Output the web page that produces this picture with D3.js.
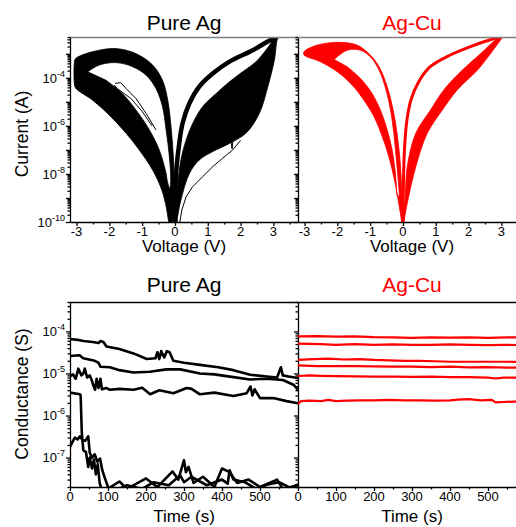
<!DOCTYPE html>
<html>
<head>
<meta charset="utf-8">
<script src="https://cdn.jsdelivr.net/npm/d3@7"></script>
<style>
  body { margin: 0; background: #fff; }
  svg { display: block; font-family: "Liberation Sans", Arial, sans-serif; }
</style>
</head>
<body>
<svg id="fig" width="516" height="527"></svg>
<script>
// ---------- axis ranges & ticks ----------
const voltDomain = [-3.2, 3.75];
const currentDomain = [1e-10, 5e-3];
const timeDomain = [0, 600];
const condDomain = [2e-8, 5e-4];
const voltTicks = [-3, -2, -1, 0, 1, 2, 3];
const voltMinorTicks = [-2.5, -1.5, -0.5, 0.5, 1.5, 2.5, 3.5];
const timeTicks = [0, 100, 200, 300, 400, 500];
const timeMinorTicks = [50, 150, 250, 350, 450, 550];
const currentLabelExps = [-10, -8, -6, -4];
const condLabelExps = [-7, -6, -5, -4];
const panelTitles = ["Pure Ag", "Ag-Cu"];

// ---------- I-V sweeps, pure Ag: [voltage (V), current (A)] ----------
// low-resistance branch, +3 V back to 0 V
const agOnPos = [[3.20,6.5e-3],[3.08,5.0e-3],[2.72,2.7e-3],[2.37,1.41e-3],[1.66,4.7e-4],[1.15,1.5e-4],
  [0.74,4.3e-5],[0.44,8.7e-6],[0.23,1.26e-6],[0.13,1.86e-7],[0.05,2.0e-8],[0.01,1.55e-9],[0.002,1e-10],[0.0,5e-11]];
// negative-bias lobe: outer edge of the ON sweeps, then the reset strip at -3 V
const agLobeOuter = [[-0.01,2.3e-10],[-0.02,2.95e-9],[-0.05,5.2e-8],[-0.12,9.1e-7],[-0.22,1.17e-5],[-0.38,7.9e-5],
  [-0.68,3.4e-4],[-1.09,8.7e-4],[-1.49,1.41e-3],[-1.90,1.66e-3],[-2.31,1.41e-3],[-2.71,1.02e-3],[-3.02,6.5e-4],
  [-3.06,5.0e-4],[-3.06,5.0e-5],[-3.02,3.6e-5]];
// lower edge of the OFF sweeps returning to 0 V
const agLobeLower = [[-2.51,1.17e-5],[-2.0,2.8e-6],[-1.49,4.9e-7],[-1.09,1.0e-7],[-0.68,1.45e-8],[-0.40,2.1e-9],
  [-0.27,4.4e-10],[-0.20,1.2e-10],[-0.15,5e-11]];
// open interior of the lobe
const agHoleUpper = [[-2.66,1.78e-4],[-2.31,3.4e-4],[-1.80,4.3e-4],[-1.29,2.9e-4],[-0.88,1.29e-4],[-0.58,3.6e-5],
  [-0.38,6.3e-6],[-0.27,6.8e-7],[-0.17,5.2e-8],[-0.13,5.6e-9],[-0.16,2.5e-9]];
const agHoleLower = [[-0.24,5.6e-9],[-0.27,1.05e-8],[-0.48,1.0e-7],[-0.78,6.8e-7],[-1.19,4.6e-6],[-1.60,2.2e-5],
  [-2.10,7.9e-5]];
// SET sweeps 0 V to +3 V: upper and lower envelope
const agSetUpper = [[0.03,3.2e-10],[0.08,2.95e-9],[0.18,3.8e-8],[0.34,2.6e-7],[0.54,1.26e-6],[0.84,6.3e-6],
  [1.25,2.2e-5],[1.66,6.8e-5],[2.06,1.78e-4],[2.47,4.7e-4],[2.77,1.41e-3],[3.03,4.4e-3],[3.10,6.5e-3]];
const agSetLower = [[3.22,6.5e-3],[3.13,4.4e-3],[3.03,5.5e-4],[2.83,4.3e-5],[2.57,3.3e-6],[2.16,4.9e-7],
  [1.66,1.86e-7],[1.15,8.5e-8],[0.74,3.8e-8],[0.44,1.05e-8],[0.18,8.1e-10],[0.08,1.6e-10],[0.04,5e-11]];
// individual sweeps running outside the main bands
const agStray1 = [[0.12,6e-11],[0.21,3.2e-10],[0.34,1.12e-9],[0.54,2.95e-9],[0.84,7.6e-9],[1.15,2.0e-8],
  [1.45,4.5e-8],[1.76,1.0e-7],[2.0,2.5e-7]];
const agStray2 = [[1.55,2.5e-7],[1.70,2.8e-7],[1.74,1.12e-7],[1.78,3.2e-7],[1.92,5.0e-7]];
const agStray3 = [[-1.82,5.9e-5],[-1.65,6.3e-5],[-1.49,3.6e-5],[-1.19,1.38e-5],[-0.88,3.3e-6],[-0.58,6.8e-7]];
const agStray4 = [[-1.85,5.0e-5],[-1.75,3.5e-5],[-1.35,1.4e-5],[-1.0,4.0e-6],[-0.7,1.0e-6]];

// ---------- I-V sweeps, Ag-Cu ----------
const cuOnPos = [[3.02,6.5e-3],[2.92,5.1e-3],[2.25,2.5e-3],[1.44,8.9e-4],[0.83,2.9e-4],[0.48,6.9e-5],
  [0.24,1.17e-5],[0.12,1.74e-6],[0.05,1.35e-7],[0.02,1.05e-8],[0.005,4.4e-10],[0.002,5e-11]];
const cuLobeOuter = [[-0.01,2.3e-10],[-0.04,2.95e-9],[-0.09,3.8e-8],[-0.18,4.9e-7],[-0.30,4.6e-6],[-0.48,4.3e-5],
  [-0.73,2.9e-4],[-1.04,1.02e-3],[-1.40,2.3e-3],[-1.80,2.95e-3],[-2.21,2.9e-3],[-2.61,2.3e-3],[-2.97,1.41e-3],
  [-3.03,1.12e-3],[-3.01,8.7e-4]];
const cuLobeLower = [[-2.52,4.7e-4],[-2.0,1.78e-4],[-1.55,5.0e-5],[-1.19,1.17e-5],[-0.88,2.4e-6],[-0.63,3.5e-7],
  [-0.43,5.2e-8],[-0.26,5.6e-9],[-0.13,6.0e-10],[-0.05,1.2e-10],[-0.03,5e-11]];
const cuHoleUpper = [[-2.10,5.8e-4],[-1.70,1.41e-3],[-1.30,1.41e-3],[-0.99,7.4e-4],[-0.73,2.1e-4],[-0.53,3.6e-5],
  [-0.38,4.6e-6],[-0.28,4.9e-7],[-0.20,3.8e-8],[-0.13,2.95e-9],[-0.12,1.3e-9]];
const cuHoleLower = [[-0.16,1.12e-9],[-0.23,1.05e-8],[-0.33,1.0e-7],[-0.48,6.8e-7],[-0.69,4.6e-6],[-0.94,2.2e-5],
  [-1.30,9.5e-5],[-1.70,2.9e-4]];
const cuSetUpper = [[0.02,3.2e-10],[0.06,8.1e-10],[0.13,2.0e-8],[0.39,4.9e-7],[0.84,4.6e-6],[1.25,3.2e-5],
  [1.81,2.1e-4],[2.37,1.02e-3],[2.88,4.8e-3],[2.98,6.5e-3]];
const cuSetLower = [[3.10,6.5e-3],[3.03,4.8e-3],[2.67,1.02e-3],[2.27,2.1e-4],[1.66,3.2e-5],[1.20,4.6e-6],
  [0.74,4.9e-7],[0.39,2.0e-8],[0.15,8.1e-10],[0.04,1.2e-10],[0.02,5e-11]];

// ---------- retention, pure Ag: [time (s), conductance (S)] ----------
const agCond1 = [[0,6.6e-5],[20,6.3e-5],[35,5.9e-5],[60,5.6e-5],[75,5.3e-5],[80,5.9e-5],[88,5.6e-5],[96,4.4e-5],
  [130,3.8e-5],[167,3.0e-5],[202,2.2e-5],[225,2.3e-5],[230,3.2e-5],[235,2.2e-5],[240,3.4e-5],[248,2.4e-5],
  [255,3.4e-5],[262,3.2e-5],[272,2.0e-5],[300,1.8e-5],[342,1.6e-5],[390,1.4e-5],[430,1.2e-5],[474,9.3e-6],
  [518,8.5e-6],[545,8.0e-6],[555,1.4e-5],[560,9.0e-6],[575,8.5e-6],[600,7.8e-6]];
const agCond2 = [[0,2.6e-5],[25,2.7e-5],[35,2.3e-5],[65,2.0e-5],[75,1.8e-5],[80,1.45e-5],[105,1.4e-5],
  [130,1.2e-5],[167,1.05e-5],[210,1.1e-5],[254,1.25e-5],[290,1.25e-5],[342,1.0e-5],[380,9.5e-6],[430,8.2e-6],
  [474,7.2e-6],[518,7.5e-6],[560,7.0e-6],[588,5.4e-6],[600,4.1e-6]];
const agCond3 = [[0,8.5e-6],[8,9.5e-6],[15,7.5e-6],[22,1.3e-5],[30,9e-6],[35,1.0e-5],[39,1.3e-5],[45,8e-6],
  [52,9e-6],[57,7.0e-6],[62,5.0e-6],[66,4.1e-6],[70,7.5e-6],[75,4.5e-6],[80,7.5e-6],[84,4.2e-6],[96,4.5e-6],
  [105,4.1e-6],[130,4.3e-6],[167,4.1e-6],[190,4.6e-6],[211,3.2e-6],[235,4.0e-6],[272,3.4e-6],[307,4.5e-6],
  [320,4.3e-6],[342,3.2e-6],[380,3.5e-6],[430,2.9e-6],[465,3.4e-6],[475,4.9e-6],[480,3.0e-6],[486,4.2e-6],
  [500,2.6e-6],[535,2.6e-6],[570,2.2e-6],[600,1.95e-6]];
const agCond4 = [[0,3.5e-6],[26,3.2e-6],[28,3.0e-6],[31,4.0e-7],[35,1.5e-7],[42,1.35e-7],[48,6.0e-8],[52,1.0e-7],
  [58,5.5e-8],[63,9e-8],[68,4e-8],[73,7e-8],[78,2.5e-8],[85,1.5e-8],[130,2.7e-8],[150,1.8e-8],[200,3.2e-8],
  [230,2.0e-8],[270,4.7e-8],[285,3.0e-8],[300,8.7e-8],[305,4.5e-8],[312,6e-8],[325,2.5e-8],[350,3.5e-8],
  [380,2.0e-8],[400,5.5e-8],[420,4.5e-8],[440,2.5e-8],[470,3.0e-8],[500,2.0e-8],[545,3.0e-8],[560,1.8e-8],
  [600,2.2e-8]];
const agCond5 = [[0,1.8e-7],[8,2.5e-7],[13,3.0e-7],[20,2.7e-7],[26,3.2e-7],[33,2.6e-7],[40,2.5e-7],[48,3.2e-7],
  [52,1.3e-7],[58,1.0e-7],[65,1.2e-7],[72,8e-8],[79,9.5e-8],[85,5e-8],[92,3.2e-8],[100,2.0e-8],[110,1.5e-8],
  [150,2.2e-8],[190,1.8e-8],[220,2.6e-8],[260,2.2e-8],[290,3.8e-8],[300,2.6e-8],[320,3.5e-8],[360,2.2e-8],
  [400,3.0e-8],[415,2.4e-8],[420,5.0e-8],[430,3.0e-8],[460,2.6e-8],[490,1.8e-8],[520,2.3e-8],[550,2.6e-8],
  [580,1.9e-8],[600,2.3e-8]];

// ---------- retention, Ag-Cu ----------
const cuCond1 = [[0,7.6e-5],[50,7.7e-5],[100,7.5e-5],[150,7.6e-5],[200,7.3e-5],[250,7.2e-5],[300,7.0e-5],
  [350,7.2e-5],[400,7.1e-5],[450,7.2e-5],[500,7.0e-5],[550,7.2e-5],[600,7.3e-5]];
const cuCond2 = [[0,5.1e-5],[60,5.0e-5],[100,4.8e-5],[150,5.0e-5],[200,4.8e-5],[250,4.9e-5],[300,4.8e-5],
  [350,4.8e-5],[400,4.9e-5],[450,4.8e-5],[500,4.7e-5],[550,4.8e-5],[600,4.7e-5]];
const cuCond3 = [[0,2.1e-5],[40,2.2e-5],[80,2.25e-5],[120,2.15e-5],[160,2.2e-5],[200,2.1e-5],[240,2.05e-5],
  [280,2.0e-5],[320,2.0e-5],[360,1.95e-5],[400,1.9e-5],[450,1.9e-5],[500,1.9e-5],[550,1.9e-5],[600,1.85e-5]];
const cuCond4 = [[0,1.55e-5],[50,1.5e-5],[100,1.5e-5],[150,1.5e-5],[200,1.48e-5],[250,1.45e-5],[300,1.45e-5],
  [350,1.42e-5],[400,1.45e-5],[450,1.4e-5],[500,1.42e-5],[550,1.38e-5],[600,1.38e-5]];
const cuCond5 = [[0,8.7e-6],[30,9.0e-6],[60,8.8e-6],[100,8.6e-6],[150,8.5e-6],[200,8.4e-6],[250,8.4e-6],
  [300,8.3e-6],[350,8.4e-6],[400,8.2e-6],[450,8.2e-6],[500,8.0e-6],[520,7.6e-6],[540,8.0e-6],[600,8.0e-6]];
const cuCond6 = [[0,1.9e-6],[8,2.2e-6],[30,2.25e-6],[60,2.2e-6],[80,2.35e-6],[100,2.2e-6],[130,2.25e-6],
  [160,2.3e-6],[200,2.3e-6],[240,2.35e-6],[280,2.3e-6],[320,2.3e-6],[360,2.25e-6],[400,2.3e-6],[420,2.4e-6],
  [450,2.45e-6],[480,2.3e-6],[510,2.35e-6],[520,2.05e-6],[540,2.1e-6],[570,2.15e-6],[600,2.15e-6]];

// ---------- layout ----------
const svg = d3.select("#fig");
const PW = 228;
const cols = [70, 298];
const rowIV = { top: 37, bottom: 222 };
const rowG = { top: 302, bottom: 487 };
const colors = ["#000000", "#ff0000"];

const ivSets = [
  { lobeOuter: agLobeOuter, lobeLower: agLobeLower, holeUpper: agHoleUpper, holeLower: agHoleLower,
    setUpper: agSetUpper, setLower: agSetLower, onPos: agOnPos, onWidth: 4.5,
    strays: [agStray1, agStray2, agStray3, agStray4] },
  { lobeOuter: cuLobeOuter, lobeLower: cuLobeLower, holeUpper: cuHoleUpper, holeLower: cuHoleLower,
    setUpper: cuSetUpper, setLower: cuSetLower, onPos: cuOnPos, onWidth: 3, strays: [] }
];
const condSets = [
  { series: [agCond1, agCond2, agCond3, agCond4, agCond5], width: 2.6 },
  { series: [cuCond1, cuCond2, cuCond3, cuCond4, cuCond5, cuCond6], width: 2.2 }
];

function logMinor(lo, hi) {
  const out = [];
  for (let e = Math.floor(Math.log10(lo)); e <= Math.ceil(Math.log10(hi)); e++) {
    for (let m = 2; m <= 9; m++) {
      const v = m * Math.pow(10, e);
      if (v >= lo && v <= hi) out.push(v);
    }
  }
  return out;
}
function logMajor(lo, hi) {
  const out = [];
  for (let e = Math.ceil(Math.log10(lo)); e <= Math.floor(Math.log10(hi)); e++) out.push(Math.pow(10, e));
  return out;
}
const fmtNum = d => (d < 0 ? "-" + (-d) : String(d));

function styleAxis(sel, stroke) {
  sel.selectAll("line, path").attr("stroke", stroke || "#000").attr("stroke-width", 1.3);
  sel.selectAll("text").remove();
}

function makeClip(id, x, y, w, h) {
  svg.append("clipPath").attr("id", id)
    .append("rect").attr("x", x).attr("y", y).attr("width", w).attr("height", h);
}

function drawFrame(x, y, row, i, majorX, minorX, majorY, minorY, labelExps, topStroke) {
  const x0 = cols[i];
  // bottom axis
  svg.append("g").attr("transform", `translate(0,${row.bottom})`)
    .call(d3.axisBottom(x).tickValues(majorX).tickSize(4).tickSizeOuter(0).tickFormat(""))
    .call(styleAxis);
  svg.append("g").attr("transform", `translate(0,${row.bottom})`)
    .call(d3.axisBottom(x).tickValues(minorX).tickSize(2.5).tickSizeOuter(0).tickFormat(""))
    .call(g => g.select(".domain").remove()).call(styleAxis);
  // x tick labels
  svg.append("g").selectAll("text").data(majorX).join("text")
    .attr("x", d => x(d)).attr("y", row.bottom + 13.5)
    .attr("text-anchor", "middle").style("font-size", "13px").text(fmtNum);
  // top border
  svg.append("line").attr("x1", x0).attr("x2", x0 + PW).attr("y1", row.top + 0.5).attr("y2", row.top + 0.5)
    .attr("stroke", topStroke).attr("stroke-width", 1.3);
  if (i === 0) {
    // left axis, outward ticks
    svg.append("g").attr("transform", `translate(${x0},0)`)
      .call(d3.axisLeft(y).tickValues(majorY).tickSize(4).tickSizeOuter(0).tickFormat(""))
      .call(styleAxis);
    svg.append("g").attr("transform", `translate(${x0},0)`)
      .call(d3.axisLeft(y).tickValues(minorY).tickSize(2.5).tickFormat(""))
      .call(g => g.select(".domain").remove()).call(styleAxis);
    // right border, inward ticks
    svg.append("g").attr("transform", `translate(${x0 + PW},0)`)
      .call(d3.axisLeft(y).tickValues(majorY).tickSize(4).tickSizeOuter(0).tickFormat(""))
      .call(styleAxis);
    svg.append("g").attr("transform", `translate(${x0 + PW},0)`)
      .call(d3.axisLeft(y).tickValues(minorY).tickSize(2.5).tickFormat(""))
      .call(g => g.select(".domain").remove()).call(styleAxis);
    // power-of-ten labels
    labelExps.forEach(e => {
      const t = svg.append("text").attr("x", x0 - 5).attr("y", y(Math.pow(10, e)) + 4.7)
        .attr("text-anchor", "end").style("font-size", "13px");
      t.append("tspan").text("10");
      t.append("tspan").attr("dy", -6).style("font-size", "9px").text(fmtNum(e));
    });
  } else {
    svg.append("line").attr("x1", x0 + PW).attr("x2", x0 + PW).attr("y1", row.top).attr("y2", row.bottom)
      .attr("stroke", "#000").attr("stroke-width", 1.3);
  }
}

function title(i, yBase) {
  svg.append("text").attr("x", cols[i] + PW / 2).attr("y", yBase).attr("text-anchor", "middle")
    .style("font-size", "21px").attr("fill", colors[i]).text(panelTitles[i]);
}
function xTitle(i, yBase, label) {
  svg.append("text").attr("x", cols[i] + PW / 2).attr("y", yBase).attr("text-anchor", "middle")
    .style("font-size", "17px").text(label);
}

// ---------- I-V panels ----------
ivSets.forEach((set, i) => {
  const x0 = cols[i], color = colors[i];
  const x = d3.scaleLinear().domain(voltDomain).range([x0, x0 + PW]);
  const y = d3.scaleLog().domain(currentDomain).range([rowIV.bottom, rowIV.top]);
  makeClip("clip-iv-" + i, x0, rowIV.top, PW, rowIV.bottom - rowIV.top);
  const g = svg.append("g").attr("clip-path", `url(#clip-iv-${i})`);
  const smooth = d3.line().x(d => x(d[0])).y(d => y(d[1])).curve(d3.curveCatmullRom.alpha(0.5));
  const straight = d3.line().x(d => x(d[0])).y(d => y(d[1]));
  const ring = (a, b) => smooth(a.concat(b)) + "Z";

  g.append("path").attr("d", ring(set.lobeOuter, set.lobeLower) + ring(set.holeUpper, set.holeLower))
    .attr("fill", color).attr("fill-rule", "evenodd").attr("stroke", color).attr("stroke-width", 0.8)
    .attr("stroke-linejoin", "round");
  g.append("path").attr("d", ring(set.setUpper, set.setLower))
    .attr("fill", color).attr("stroke", color).attr("stroke-width", 0.8).attr("stroke-linejoin", "round");
  g.append("path").attr("d", smooth(set.onPos)).attr("fill", "none").attr("stroke", color)
    .attr("stroke-width", set.onWidth).attr("stroke-linecap", "round");
  set.strays.forEach(s => g.append("path").attr("d", straight(s)).attr("fill", "none")
    .attr("stroke", color).attr("stroke-width", 1));

  drawFrame(x, y, rowIV, i, voltTicks, voltMinorTicks,
    logMajor(currentDomain[0], currentDomain[1]), logMinor(currentDomain[0], currentDomain[1]),
    currentLabelExps, "#808080");
  title(i, 30);
  xTitle(i, 252, "Voltage (V)");
});

// ---------- retention panels ----------
condSets.forEach((set, i) => {
  const x0 = cols[i], color = colors[i];
  const x = d3.scaleLinear().domain(timeDomain).range([x0, x0 + PW]);
  const y = d3.scaleLog().domain(condDomain).range([rowG.bottom, rowG.top]);
  makeClip("clip-g-" + i, x0, rowG.top, PW, rowG.bottom - rowG.top);
  const g = svg.append("g").attr("clip-path", `url(#clip-g-${i})`);
  const line = d3.line().x(d => x(d[0])).y(d => y(d[1]));
  set.series.forEach(s => g.append("path").attr("d", line(s)).attr("fill", "none").attr("stroke", color)
    .attr("stroke-width", set.width).attr("stroke-linejoin", "round"));

  drawFrame(x, y, rowG, i, timeTicks, timeMinorTicks,
    logMajor(condDomain[0], condDomain[1]), logMinor(condDomain[0], condDomain[1]),
    condLabelExps, "#000");
  title(i, 292);
  xTitle(i, 522, "Time (s)");
});

// ---------- y-axis titles ----------
svg.append("text").attr("transform", `translate(28,134) rotate(-90)`).attr("text-anchor", "middle")
  .style("font-size", "17.5px").text("Current (A)");
svg.append("text").attr("transform", `translate(28,394) rotate(-90)`).attr("text-anchor", "middle")
  .style("font-size", "17.5px").text("Conductance (S)");
</script>
</body>
</html>
